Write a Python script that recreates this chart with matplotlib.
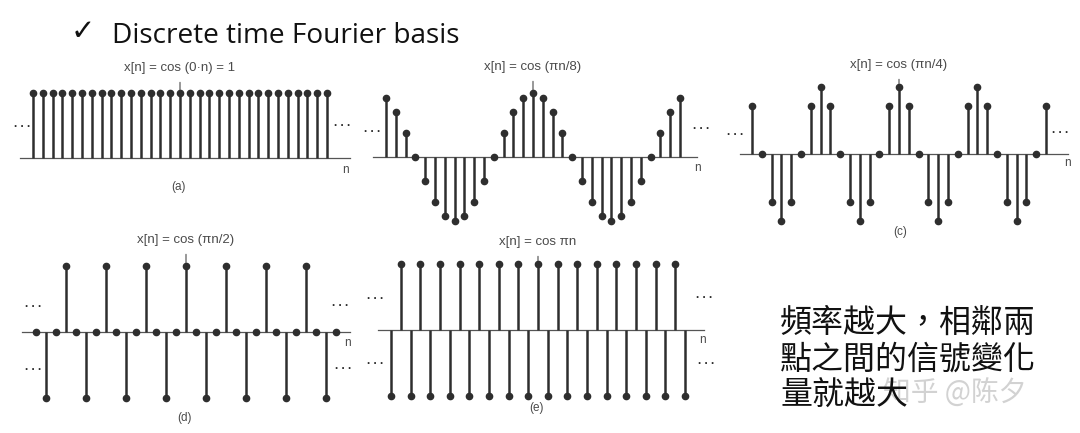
import matplotlib
matplotlib.use("Agg")
import matplotlib.pyplot as plt

W, H = 1080, 433

# sample index shared by every panel
n = list(range(-15, 16))

# x[n] = cos(0*n) = 1
x_a = [1, 1, 1, 1, 1, 1, 1, 1, 1, 1, 1, 1, 1, 1, 1, 1,
       1, 1, 1, 1, 1, 1, 1, 1, 1, 1, 1, 1, 1, 1, 1]
# x[n] = cos(pi n / 8)
x_b = [0.92, 0.71, 0.38, 0, -0.38, -0.71, -0.92, -1, -0.92, -0.71, -0.38, 0, 0.38, 0.71, 0.92, 1,
       0.92, 0.71, 0.38, 0, -0.38, -0.71, -0.92, -1, -0.92, -0.71, -0.38, 0, 0.38, 0.71, 0.92]
# x[n] = cos(pi n / 4)
x_c = [0.71, 0, -0.71, -1, -0.71, 0, 0.71, 1, 0.71, 0, -0.71, -1, -0.71, 0, 0.71, 1,
       0.71, 0, -0.71, -1, -0.71, 0, 0.71, 1, 0.71, 0, -0.71, -1, -0.71, 0, 0.71]
# x[n] = cos(pi n / 2)
x_d = [0, -1, 0, 1, 0, -1, 0, 1, 0, -1, 0, 1, 0, -1, 0, 1,
       0, -1, 0, 1, 0, -1, 0, 1, 0, -1, 0, 1, 0, -1, 0]
# x[n] = cos(pi n)
x_e = [-1, 1, -1, 1, -1, 1, -1, 1, -1, 1, -1, 1, -1, 1, -1, 1,
       -1, 1, -1, 1, -1, 1, -1, 1, -1, 1, -1, 1, -1, 1, -1]

labels = ["x[n] = cos (0·n) = 1", "x[n] = cos (πn/8)", "x[n] = cos (πn/4)",
          "x[n] = cos (πn/2)", "x[n] = cos πn"]
captions = ["(a)", None, "(c)", "(d)", "(e)"]
note_lines = ["頻率越大，相鄰兩", "點之間的信號變化", "量就越大"]

STEM = "#2e2e2e"
GRAY = "#4a4a4a"
LBL_FONT = "Liberation Sans"


def fx(x):
    return x / W


def fy(y):
    return 1 - y / H


fig = plt.figure(figsize=(W / 100, H / 100), dpi=100)
fig.patch.set_facecolor("white")


def panel(vals, xc, y0, amp, dx, lo, hi, label, label_y):
    ax = fig.add_axes([fx(xc - 18 * dx), fy(y0 + 1.3 * amp), 36 * dx / W, 2.6 * amp / H])
    ax.set_xlim(-18, 18)
    ax.set_ylim(-1.3, 1.3)
    ax.axis("off")
    ax.plot([lo, hi], [0, 0], color="#555555", lw=0.9, zorder=1)
    ml, sl, bl = ax.stem(n, vals, basefmt=" ")
    plt.setp(sl, color=STEM, linewidth=1.8, zorder=2)
    plt.setp(ml, color=STEM, markersize=4.5, zorder=3)
    ax.annotate(label, xy=(0, vals[15] + 0.05), xycoords="data",
                xytext=(fx(xc), fy(label_y)), textcoords="figure fraction",
                ha="center", va="center", fontsize=9.5, color=GRAY, family=LBL_FONT,
                arrowprops=dict(arrowstyle="-", color=GRAY, lw=0.8, shrinkA=4, shrinkB=0))
    return ax


def dots(x, y):
    fig.text(fx(x), fy(y + 2), ". . .", ha="center", va="baseline", fontsize=8.5,
             fontweight="bold", color=STEM, family=LBL_FONT)


def small(x, y, s):
    fig.text(fx(x), fy(y), s, ha="center", va="center", fontsize=8.5,
             color=GRAY, family=LBL_FONT)


# (a)
panel(x_a, 180, 158, 65, 9.8, -16.3, 17.3, labels[0], 68)
dots(22, 125); dots(342, 124)
small(345, 170, "n"); small(178, 187, captions[0])

# (b)
panel(x_b, 533, 157, 64, 9.8, -16.3, 16.7, labels[1], 67)
dots(372, 130); dots(701, 127)
small(697, 168, "n")

# (c)
panel(x_c, 899, 154, 67, 9.8, -16.2, 17.2, labels[2], 65)
dots(735, 133); dots(1060, 131)
small(1067, 163, "n"); small(900, 232, captions[2])

# (d)
panel(x_d, 186, 332, 66, 10.0, -16.4, 16.4, labels[3], 240)
dots(33, 305); dots(33, 368); dots(340, 304); dots(343, 367)
small(347, 343, "n"); small(185, 418, captions[3])

# (e)
panel(x_e, 538, 330, 66, 9.8, -16.3, 16.9, labels[4], 242)
dots(375, 297); dots(375, 362); dots(704, 296); dots(706, 362)
small(702, 340, "n"); small(537, 408, captions[4])

# slide title
fig.text(fx(71), fy(40), "✓", ha="left", va="baseline", fontsize=21,
         family="DejaVu Sans", color="#111111")
fig.text(fx(112), fy(43), "Discrete time Fourier basis", ha="left", va="baseline",
         fontsize=20.2, family="Open Sans", color="#111111")

# watermark
fig.text(fx(883), fy(394), "知乎 @陈夕", ha="left", va="center", fontsize=20,
         family=["Noto Sans CJK SC", "DejaVu Sans"], color="#d2d2d2", zorder=0)

# note on the right
for i, line in enumerate(note_lines):
    fig.text(fx(780), fy(323 + 36.5 * i), line, ha="left", va="center", fontsize=23,
             family=["Noto Sans CJK TC", "DejaVu Sans"], color="#111111")

fig.savefig("out.png", dpi=100)
